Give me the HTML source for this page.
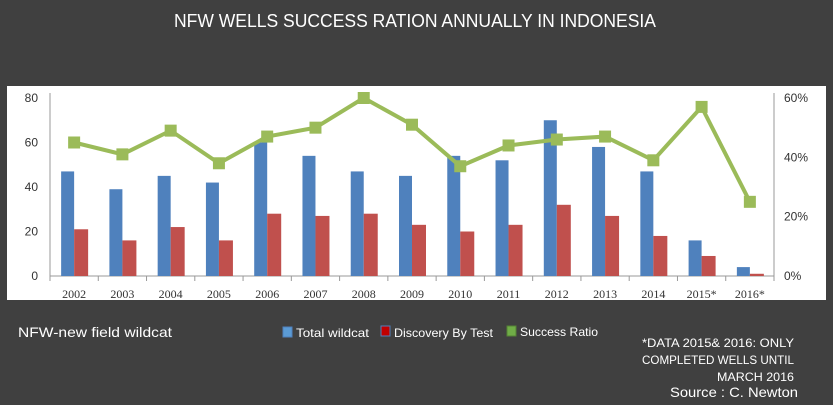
<!DOCTYPE html>
<html><head><meta charset="utf-8"><style>
html,body{margin:0;padding:0;background:#404040;width:833px;height:405px;overflow:hidden;font-family:"Liberation Sans",sans-serif}
</style></head><body>
<svg width="833" height="405" viewBox="0 0 833 405" xmlns="http://www.w3.org/2000/svg">
<rect x="0" y="0" width="833" height="405" fill="#404040"/>
<text x="415" y="27" text-anchor="middle" fill="#fff" font-size="18" textLength="482" lengthAdjust="spacingAndGlyphs">NFW WELLS SUCCESS RATION ANNUALLY IN INDONESIA</text>
<rect x="7" y="86" width="819" height="214" fill="#fff"/>
<g id="plot"></g>
<text x="18" y="337" fill="#fff" font-size="14" textLength="154" lengthAdjust="spacingAndGlyphs">NFW-new field wildcat</text>
<g>
<rect x="283" y="327" width="9" height="10" fill="#5b9bd5" stroke="#4f81bd"/>
<text x="296" y="337" fill="#fff" font-size="12" textLength="73" lengthAdjust="spacingAndGlyphs">Total wildcat</text>
<rect x="381" y="326" width="9" height="10" fill="#c00000" stroke="#4f81bd"/>
<text x="394" y="337" fill="#fff" font-size="12" textLength="99" lengthAdjust="spacingAndGlyphs">Discovery By Test</text>
<rect x="507" y="326" width="9" height="10" fill="#70ad47" stroke="#548235"/>
<text x="520" y="336" fill="#fff" font-size="12" textLength="78" lengthAdjust="spacingAndGlyphs">Success Ratio</text>
</g>
<g fill="#fff" font-size="12" text-anchor="end">
<text x="794" y="347" textLength="152" lengthAdjust="spacingAndGlyphs">*DATA 2015&amp; 2016: ONLY</text>
<text x="794" y="364" textLength="152" lengthAdjust="spacingAndGlyphs">COMPLETED WELLS UNTIL</text>
<text x="794" y="381" textLength="77" lengthAdjust="spacingAndGlyphs">MARCH 2016</text>
</g>
<text x="798" y="397" fill="#fff" font-size="14" text-anchor="end" textLength="128" lengthAdjust="spacingAndGlyphs">Source : C. Newton</text>
</svg>
<script>
const categories=["2002","2003","2004","2005","2006","2007","2008","2009","2010","2011","2012","2013","2014","2015*","2016*"];
const totalWildcat=[47,39,45,42,60,54,47,45,54,52,70,58,47,16,4];
const discovery=[21,16,22,16,28,27,28,23,20,23,32,27,18,9,1];
const successRatio=[45,41,49,38,47,50,60,51,37,44,46,47,39,57,25];
const leftTicks=[0,20,40,60,80];
const rightTicks=[0,20,40,60];
const NS="http://www.w3.org/2000/svg";
const g=document.getElementById('plot');
const x0=50,x1=774,yB=276,yT=98;
const step=(x1-x0)/categories.length;
const xc=i=>x0+step*(i+0.5);
const yL=v=>yB-(v/80)*(yB-yT);
const yR=v=>yB-(v/60)*(yB-yT);
function el(t,a){const e=document.createElementNS(NS,t);for(const k in a)e.setAttribute(k,a[k]);g.appendChild(e);return e;}
let e;
e=el('line',{x1:x0,y1:yT-5,x2:x0,y2:yB,stroke:'#999'});


e=el('line',{x1:x1,y1:yT-5,x2:x1,y2:yB,stroke:'#999'});


e=el('line',{x1:x0,y1:yB,x2:x1,y2:yB,stroke:'#999'});


leftTicks.forEach(v=>{
 e=el('text',{x:x0-12,y:yL(v)+4,'text-anchor':'end','font-size':12,fill:'#333'});e.textContent=v;
 
 
});
rightTicks.forEach(v=>{
 e=el('text',{x:x1+10,y:yR(v)+4,'font-size':12,fill:'#333'});e.textContent=v+'%';
 
 
});
for(let i=0;i<=categories.length;i++){
 e=el('line',{x1:x0+step*i,y1:yB,x2:x0+step*i,y2:yB+5,stroke:'#999'});
 
 
}
categories.forEach((c,i)=>{
 const cx=xc(i);
 e=el('rect',{x:cx-13,y:yL(totalWildcat[i]),width:13,height:yB-yL(totalWildcat[i]),fill:'#4f81bd'});
 
 
 e=el('rect',{x:cx,y:yL(discovery[i]),width:14,height:yB-yL(discovery[i]),fill:'#c0504d'});
 
 
 e=el('text',{x:cx,y:yB+22,'text-anchor':'middle','font-size':12,fill:'#333','font-family':'Liberation Serif, serif'});e.textContent=c;
 
 
});
e=el('polyline',{points:successRatio.map((v,i)=>xc(i)+','+yR(v)).join(' '),fill:'none',stroke:'#9bbb59','stroke-width':4});


successRatio.forEach((v,i)=>{
 e=el('rect',{x:xc(i)-6,y:yR(v)-6,width:12,height:12,fill:'#9bbb59'});
 
 
});
</script>
</body></html>
